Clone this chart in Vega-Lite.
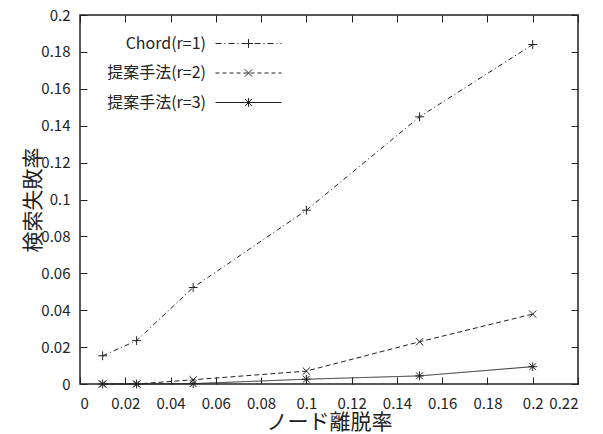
{
  "$schema": "https://vega.github.io/schema/vega-lite/v6.json",
  "width": 498,
  "height": 369,
  "autosize": "none",
  "padding": {"left": 80, "top": 15, "right": 25, "bottom": 50},
  "background": "white",
  "config": {
    "view": {"stroke": "#222222", "strokeWidth": 1.5},
    "font": "Noto Sans CJK JP",
    "axis": {
      "domain": false,
      "grid": false,
      "tickColor": "#222222",
      "tickWidth": 1,
      "tickSize": -7,
      "labelFont": "Noto Sans CJK JP",
      "labelFontSize": 15,
      "labelColor": "#222222",
      "titleFont": "Noto Sans CJK JP",
      "titleColor": "#222222",
      "titleFontWeight": "normal"
    }
  },
  "data": {
    "values": [
      {"series": "Chord(r=1)", "x": 0.01, "y": 0.0153},
      {"series": "Chord(r=1)", "x": 0.025, "y": 0.0235},
      {"series": "Chord(r=1)", "x": 0.05, "y": 0.0523},
      {"series": "Chord(r=1)", "x": 0.1, "y": 0.0942},
      {"series": "Chord(r=1)", "x": 0.15, "y": 0.1448},
      {"series": "Chord(r=1)", "x": 0.2, "y": 0.184},
      {"series": "提案手法(r=2)", "x": 0.01, "y": 0},
      {"series": "提案手法(r=2)", "x": 0.025, "y": 0},
      {"series": "提案手法(r=2)", "x": 0.05, "y": 0.0023},
      {"series": "提案手法(r=2)", "x": 0.1, "y": 0.007},
      {"series": "提案手法(r=2)", "x": 0.15, "y": 0.0229},
      {"series": "提案手法(r=2)", "x": 0.2, "y": 0.0379},
      {"series": "提案手法(r=3)", "x": 0.01, "y": 0},
      {"series": "提案手法(r=3)", "x": 0.025, "y": 0},
      {"series": "提案手法(r=3)", "x": 0.05, "y": 0.0002},
      {"series": "提案手法(r=3)", "x": 0.1, "y": 0.0026},
      {"series": "提案手法(r=3)", "x": 0.15, "y": 0.0044},
      {"series": "提案手法(r=3)", "x": 0.2, "y": 0.0094}
    ]
  },
  "layer": [
    {
      "mark": {"type": "line", "color": "#222222", "strokeWidth": 1},
      "encoding": {
        "x": {
          "field": "x", "type": "quantitative",
          "scale": {"domain": [0, 0.22], "nice": false, "zero": true},
          "axis": {
            "values": [0, 0.02, 0.04, 0.06, 0.08, 0.1, 0.12, 0.14, 0.16, 0.18, 0.2, 0.22],
            "format": "~g", "title": "ノード離脱率", "titleFontSize": 21,
            "labelPadding": 19, "titlePadding": 0
          }
        },
        "y": {
          "field": "y", "type": "quantitative",
          "scale": {"domain": [0, 0.2], "nice": false},
          "axis": {
            "values": [0, 0.02, 0.04, 0.06, 0.08, 0.1, 0.12, 0.14, 0.16, 0.18, 0.2],
            "format": "~g", "title": "検索失敗率", "titleFontSize": 21,
            "labelPadding": 17, "titlePadding": -3
          }
        },
        "strokeDash": {
          "field": "series", "type": "nominal",
          "scale": {"domain": ["Chord(r=1)", "提案手法(r=2)", "提案手法(r=3)"], "range": [[5, 3, 1, 3], [5, 3], [1, 0]]},
          "legend": null
        }
      }
    },
    {
      "mark": {"type": "point", "filled": false, "stroke": "#222222", "strokeWidth": 1, "size": 64, "opacity": 1},
      "encoding": {
        "x": {
          "field": "x", "type": "quantitative",
          "axis": {"orient": "top", "labels": false, "title": null, "values": [0, 0.02, 0.04, 0.06, 0.08, 0.1, 0.12, 0.14, 0.16, 0.18, 0.2, 0.22]}
        },
        "y": {
          "field": "y", "type": "quantitative",
          "axis": {"orient": "right", "labels": false, "title": null, "values": [0, 0.02, 0.04, 0.06, 0.08, 0.1, 0.12, 0.14, 0.16, 0.18, 0.2]}
        },
        "shape": {
          "field": "series", "type": "nominal",
          "scale": {
            "domain": ["Chord(r=1)", "提案手法(r=2)", "提案手法(r=3)"],
            "range": [
              "M-1.1,0H1.1M0,-1.1V1.1",
              "M-0.9,-0.9L0.9,0.9M-0.9,0.9L0.9,-0.9",
              "M-1.1,0H1.1M0,-1.1V1.1M-0.85,-0.85L0.85,0.85M-0.85,0.85L0.85,-0.85"
            ]
          },
          "legend": null
        }
      }
    },
    {
      "transform": [{"filter": "datum.x < 0"}],
      "mark": {"type": "point", "filled": false, "stroke": "#222222", "strokeWidth": 1, "size": 64},
      "encoding": {
        "x": {"field": "x", "type": "quantitative", "axis": null},
        "y": {"field": "y", "type": "quantitative", "axis": null},
        "shape": {
          "field": "series", "type": "nominal",
          "scale": {
            "domain": ["Chord(r=1)", "提案手法(r=2)", "提案手法(r=3)"],
            "range": [
              "M-8.25,0H-6.75M-6,0H-5.75M-5,0H-3.5M-2.75,0H-2.5M-1.75,0H-0.25M0.5,0H0.75M1.5,0H3M3.75,0H4M4.75,0H6.25M7,0H7.25M8,0H8.25M-1.1,0H1.1M0,-1.1V1.1",
              "M-8.25,0H-7.25M-6.5,0H-5.5M-4.75,0H-3.75M-3,0H-2M-1.25,0H-0.25M0.5,0H1.5M2.25,0H3.25M4,0H5M5.75,0H6.75M7.5,0H8.25M-0.9,-0.9L0.9,0.9M-0.9,0.9L0.9,-0.9",
              "M-8.25,0H8.25M-1.1,0H1.1M0,-1.1V1.1M-0.85,-0.85L0.85,0.85M-0.85,0.85L0.85,-0.85"
            ]
          },
          "legend": {
            "title": null,
            "orient": "none",
            "legendX": 160.5,
            "legendY": 20.5,
            "padding": 0,
            "symbolSize": 64,
            "symbolStrokeColor": "#222222",
            "symbolFillColor": "transparent",
            "symbolStrokeWidth": 1,
            "symbolOpacity": 1,
            "labelFont": "Noto Sans CJK JP",
            "labelFontSize": 16,
            "labelColor": "#222222",
            "labelAlign": "right",
            "labelOffset": -50.5,
            "rowPadding": 13.5
          }
        }
      }
    }
  ],
  "resolve": {
    "scale": {"shape": "independent"},
    "axis": {"x": "independent", "y": "independent"}
  }
}
